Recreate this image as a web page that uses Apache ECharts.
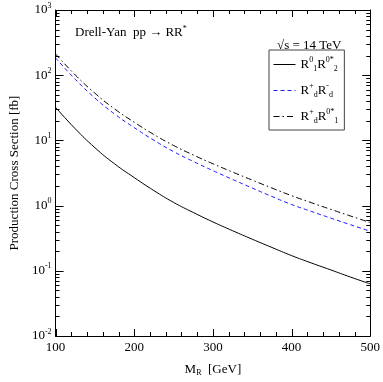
<!DOCTYPE html>
<html>
<head>
<meta charset="utf-8">
<script src="https://cdn.jsdelivr.net/npm/echarts@6/dist/echarts.min.js"></script>
<style>
  html, body { margin: 0; padding: 0; background: #fff; }
  #main { width: 383px; height: 382px; }
</style>
</head>
<body>
<div id="main"></div>
<script>
var massPoints = [100, 125, 150, 175, 200, 225, 250, 275, 300, 325, 350, 375, 400, 425, 450, 475, 500];
// cross sections in fb
var sigmaR1R2 = [32.2, 15.1, 7.73, 4.37, 2.69, 1.70, 1.12, 0.785, 0.562, 0.412, 0.305, 0.228, 0.171, 0.132, 0.103, 0.080, 0.063];
var sigmaRdRd = [184, 86.7, 44.7, 25.4, 15.7, 10.05, 6.73, 4.76, 3.44, 2.52, 1.86, 1.38, 1.04, 0.815, 0.641, 0.508, 0.405];
var sigmaRdR1 = [212, 101, 53.0, 30.4, 19.0, 12.3, 8.36, 5.98, 4.38, 3.27, 2.46, 1.86, 1.42, 1.11, 0.875, 0.692, 0.55];
var seriesNames = ['R1R2', 'RdRd', 'RdR1'];
var legendLabels = {
  R1R2: '{r|R}{sup|0}{sub|1}{r|R}{sup|0*}{sub|2}',
  RdRd: '{r|R}{sup|+}{sub|d}{r|R}{sup|-}{sub|d}',
  RdR1: '{r|R}{sup|+}{sub|d}{r|R}{sup|0*}{sub|1}'
};
var xTicks = [100, 200, 300, 400, 500];
var xMinorTicks = [120, 140, 160, 180, 220, 240, 260, 280, 320, 340, 360, 380, 420, 440, 460, 480];
var yTicks = [0.01, 0.1, 1, 10, 100, 1000];
var yMinorTicks = [];
[0.01, 0.1, 1, 10, 100].forEach(function (d) {
  for (var k = 2; k <= 9; k++) yMinorTicks.push(+(k * d).toPrecision(3));
});

var font = 'Liberation Serif';
var X0 = 100, X1 = 500, Y0 = 0.01, Y1 = 1000;
function pairs(ys) { return massPoints.map(function (m, i) { return [m, ys[i]]; }); }

var myChart = echarts.init(document.getElementById('main'));
var option = {
  animation: false,
  grid: { left: 45, right: 12, top: 10, bottom: 46 },
  title: [{
    text: '{n|Drell-Yan  pp \u2192 RR}{sup|*}',
    left: 70, top: 20,
    textStyle: {
      fontWeight: 'normal',
      rich: {
        n: { fontFamily: font, fontSize: 13, fontWeight: 'normal', color: '#000' },
        sup: { fontFamily: font, fontSize: 8, fontWeight: 'normal', color: '#000', padding: [0, 0, 8, 0] }
      }
    }
  }, {
    text: '\u221As = 14 TeV',
    left: 272, top: 34,
    textStyle: { fontFamily: font, fontSize: 13, fontWeight: 'normal', color: '#000' }
  }],
  legend: {
    orient: 'vertical',
    left: 269, top: 50,
    data: seriesNames,
    borderColor: '#444', borderWidth: 1,
    padding: [6, 6, 5, 4],
    itemGap: 9,
    itemWidth: 22, itemHeight: 14,
    itemStyle: { opacity: 0 },
    lineStyle: { width: 1 },
    formatter: function (n) { return legendLabels[n]; },
    textStyle: {
      rich: {
        r: { fontFamily: font, fontSize: 13, color: '#000' },
        sup: { fontFamily: font, fontSize: 8, color: '#000', padding: [0, 0, 9, 0] },
        sub: { fontFamily: font, fontSize: 8, color: '#000', padding: [9, 0, 0, 0] }
      }
    }
  },
  xAxis: [{
    type: 'value', min: X0, max: X1, interval: 100, position: 'bottom',
    name: '{m|M}{s|R}{m|  [GeV]}', nameLocation: 'middle', nameGap: 26,
    nameTextStyle: {
      rich: {
        m: { fontFamily: font, fontSize: 13, color: '#000' },
        s: { fontFamily: font, fontSize: 8, color: '#000', padding: [7, 0, 0, 0] }
      }
    },
    axisLine: { show: true, onZero: false, lineStyle: { color: '#000', width: 1 } },
    axisTick: { show: false },
    axisLabel: { color: '#000', fontSize: 13, fontFamily: font, margin: 5, customValues: xTicks },
    splitLine: { show: false }
  }, {
    type: 'value', min: X0, max: X1, position: 'top',
    axisLine: { show: true, onZero: false, lineStyle: { color: '#000', width: 1 } },
    axisTick: { show: false }, axisLabel: { show: false }, splitLine: { show: false }
  }],
  yAxis: [{
    type: 'log', logBase: 10, min: Y0, max: Y1, position: 'left',
    name: 'Production Cross Section [fb]', nameLocation: 'middle', nameGap: 30,
    nameTextStyle: { fontFamily: font, fontSize: 13, color: '#000' },
    axisLine: { show: true, onZero: false, lineStyle: { color: '#000', width: 1 } },
    axisTick: { show: false },
    axisLabel: {
      margin: 4, customValues: yTicks,
      formatter: function (v) { return '{b|10}{s|' + Math.round(Math.log10(v)) + '}'; },
      rich: {
        b: { fontFamily: font, fontSize: 13, color: '#000' },
        s: { fontFamily: font, fontSize: 8, color: '#000', padding: [0, 0, 9, 0] }
      }
    },
    splitLine: { show: false }
  }, {
    type: 'log', logBase: 10, min: Y0, max: Y1, position: 'right',
    axisLine: { show: true, onZero: false, lineStyle: { color: '#000', width: 1 } },
    axisTick: { show: false }, axisLabel: { show: false }, splitLine: { show: false }
  }],
  series: [{
    name: 'R1R2', type: 'line', smooth: true, symbol: 'none',
    data: pairs(sigmaR1R2),
    lineStyle: { color: '#000', width: 1, type: 'solid' },
    itemStyle: { color: '#000' }
  }, {
    name: 'RdRd', type: 'line', smooth: true, symbol: 'none',
    data: pairs(sigmaRdRd),
    lineStyle: { color: '#1a1aff', width: 1, type: [4, 3] },
    itemStyle: { color: '#1a1aff' }
  }, {
    name: 'RdR1', type: 'line', smooth: true, symbol: 'none',
    data: pairs(sigmaRdR1),
    lineStyle: { color: '#000', width: 1, type: [6, 3, 1.5, 3] },
    itemStyle: { color: '#000' }
  }]
};
myChart.setOption(option);

// inward ticks on all four sides, placed through the chart's own scales
var tickEls = [];
function tick(x1, y1, x2, y2) {
  tickEls.push({ type: 'line', z: 100, silent: true,
    shape: { x1: x1, y1: y1, x2: x2, y2: y2 },
    style: { stroke: '#000', lineWidth: 1 } });
}
function toPx(v) { return myChart.convertToPixel({ gridIndex: 0 }, v); }
xTicks.concat(xMinorTicks).forEach(function (v) {
  var len = xTicks.indexOf(v) >= 0 ? 7 : 4;
  var b = toPx([v, Y0]), t = toPx([v, Y1]);
  var x = Math.round(b[0]) + 0.5;
  tick(x, b[1], x, b[1] - len);
  tick(x, t[1], x, t[1] + len);
});
yTicks.concat(yMinorTicks).forEach(function (v) {
  var len = yTicks.indexOf(v) >= 0 ? 8 : 4;
  var l = toPx([X0, v]), r = toPx([X1, v]);
  var y = Math.round(l[1]) + 0.5;
  tick(l[0], y, l[0] + len, y);
  tick(r[0], y, r[0] - len, y);
});
myChart.setOption({ graphic: tickEls });
</script>
</body>
</html>
